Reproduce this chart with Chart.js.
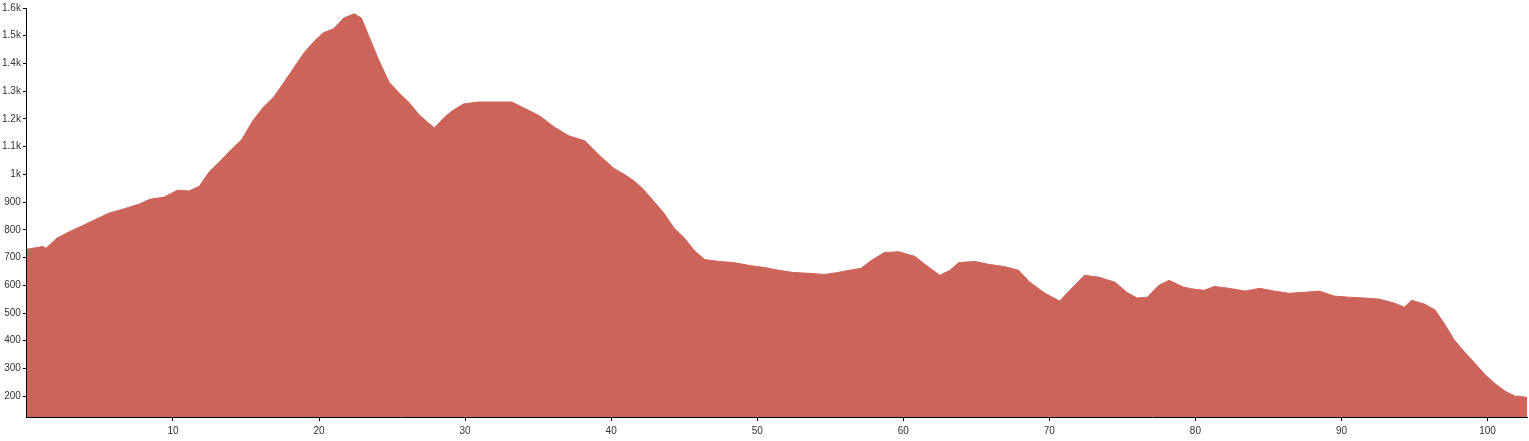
<!DOCTYPE html>
<html>
<head>
<meta charset="utf-8">
<script src="https://cdn.jsdelivr.net/npm/chart.js@4/dist/chart.umd.min.js"></script>
<style>
  html, body { margin: 0; padding: 0; background: #fff; }
  #wrap { width: 1529px; height: 441px; }
</style>
</head>
<body>
<div id="wrap"><canvas id="profile"></canvas></div>
<script>
'use strict';
// distance (km) and elevation (m)
let dist = [
  0, 1.1, 1.3, 2.05, 2.9, 3.6, 4.6, 5.6, 6.6, 7.7, 8.4, 9.4, 10.3, 11.1, 11.8,
  12.5, 13.2, 14.0, 14.7, 15.5, 16.2, 16.9, 17.6, 18.3, 19.0, 19.7, 20.3, 21.0,
  21.7, 22.4, 22.9, 23.4, 24.1, 24.8, 25.5, 26.2, 26.8, 27.4, 27.9, 28.6, 29.2,
  29.9, 30.9, 31.9, 33.2, 34.0, 35.1, 36.1, 37.1, 38.2, 38.8, 39.5, 40.2, 40.9,
  41.6, 42.2, 42.9, 43.6, 44.3, 45.0, 45.7, 46.4, 47.4, 48.4, 49.5, 50.5, 51.5,
  52.5, 53.6, 54.6, 55.5, 56.3, 57.1, 57.8, 58.7, 59.7, 60.8, 61.4, 62.5, 63.2,
  63.8, 64.9, 65.9, 66.9, 67.9, 68.6, 69.7, 70.7, 71.4, 72.4, 73.4, 74.5, 75.3,
  76.0, 76.7, 77.5, 78.2, 79.2, 79.9, 80.6, 81.3, 82.3, 83.4, 84.4, 85.4, 86.4,
  87.5, 88.5, 89.5, 90.5, 91.6, 92.6, 93.6, 94.3, 94.8, 95.7, 96.4, 97.1, 97.7,
  98.4, 99.1, 99.8, 100.5, 101.2, 101.9, 102.2, 102.7
];
let elev = [
  730, 740, 733, 770, 793, 810, 835, 860, 875, 893, 910, 918, 943, 940, 957,
  1010, 1046, 1090, 1125, 1196, 1243, 1279, 1332, 1386, 1440, 1482, 1511, 1525,
  1564, 1579, 1564, 1500, 1411, 1332, 1293, 1257, 1218, 1189, 1168, 1207, 1232,
  1254, 1261, 1261, 1261, 1240, 1211, 1171, 1139, 1121, 1089, 1054, 1021, 1000,
  975, 946, 904, 861, 807, 771, 725, 693, 686, 682, 671, 664, 654,
  646, 643, 639, 646, 654, 661, 689, 718, 721, 704, 679, 636, 654,
  682, 686, 675, 668, 654, 614, 571, 543, 582, 636, 629, 611, 575,
  554, 557, 600, 618, 593, 586, 582, 596, 589, 579, 589, 579, 571,
  575, 579, 561, 557, 554, 550, 536, 521, 546, 532, 511, 457, 404,
  361, 321, 279, 246, 218, 200, 200, 195
];
let yTicks = [200, 300, 400, 500, 600, 700, 800, 900, 1000, 1100, 1200, 1300, 1400, 1500, 1600];
let xTicks = [10, 20, 30, 40, 50, 60, 70, 80, 90, 100];

let points = [];
for (let i = 0; i < dist.length; i++) {
  points.push({ x: dist[i], y: elev[i] });
}

function kFormat(v) {
  if (v >= 1000) return (v / 1000) + 'k';
  return String(v);
}

const ctx = document.getElementById('profile').getContext('2d');
new Chart(ctx, {
  type: 'line',
  data: {
    datasets: [{
      data: points,
      borderColor: 'rgb(205,100,90)',
      backgroundColor: 'rgb(205,100,90)',
      borderWidth: 1,
      pointRadius: 0,
      fill: 'start',
      tension: 0
    }]
  },
  options: {
    responsive: true,
    maintainAspectRatio: false,
    animation: false,
    layout: { padding: { top: 5, right: 2 } },
    plugins: { legend: { display: false }, tooltip: { enabled: false } },
    scales: {
      x: {
        type: 'linear',
        min: 0,
        max: 102.7,
        afterBuildTicks: (axis) => { axis.ticks = xTicks.map(v => ({ value: v })); },
        ticks: {
          font: { family: 'Arial, "Liberation Sans", sans-serif', size: 10 },
          color: '#333',
          maxRotation: 0,
          padding: 4
        },
        grid: { display: true, drawOnChartArea: false, tickLength: 4, color: '#000' },
        border: { display: true, color: '#000', width: 1 }
      },
      y: {
        min: 125,
        max: 1600,
        afterBuildTicks: (axis) => { axis.ticks = yTicks.map(v => ({ value: v })); },
        ticks: {
          callback: (v) => kFormat(v),
          font: { family: 'Arial, "Liberation Sans", sans-serif', size: 10 },
          color: '#333',
          padding: 2
        },
        grid: { display: true, drawOnChartArea: false, tickLength: 4, color: '#000' },
        border: { display: true, color: '#000', width: 1 }
      }
    }
  }
});
</script>
</body>
</html>
